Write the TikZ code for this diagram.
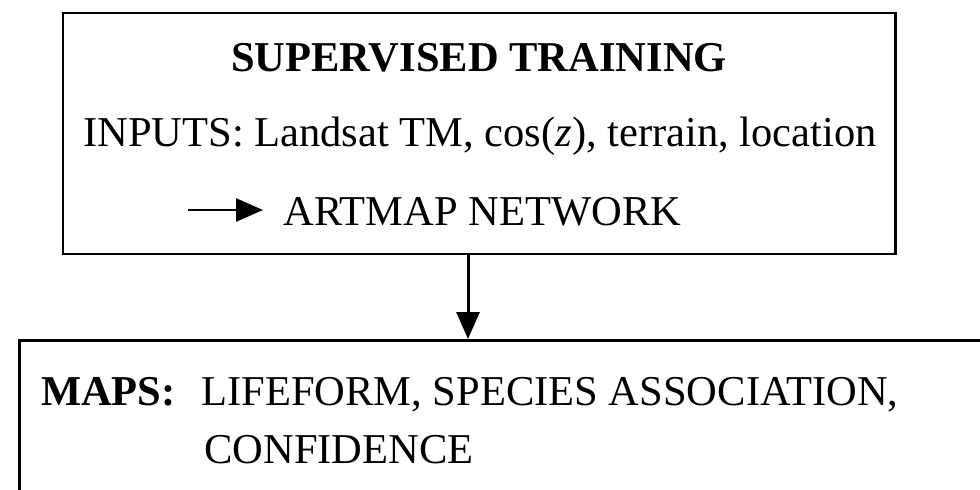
\documentclass[tikz,border=0pt]{standalone}
\usepackage{fontspec}
\setmainfont{Liberation Serif}
\usetikzlibrary{positioning, arrows.meta}

\tikzstyle{block} = [rectangle, draw, line width=1.7pt, fill=white]
\tikzstyle{words} = [inner sep=0pt, font=\fontsize{24.2}{29}\selectfont]
\tikzstyle{heading} = [inner sep=0pt, font=\fontsize{24.2}{29}\selectfont\bfseries]
\tikzstyle{arrow} = [draw, line width=1.7pt, -{Triangle[length=5.4mm, width=4.6mm]}]

\begin{document}
\begin{tikzpicture}[x=0.2mm, y=-0.2mm, node distance=1cm]
    \clip (0,0) rectangle (980,490);

    % boxes
    \node[block, minimum width=16.64cm, minimum height=4.82cm] (training) at (479,133.5) {};
    \node[block, minimum width=20cm, minimum height=4cm, anchor=north west] (maps) at (18,339) {};

    % top box text
    \node[heading, anchor=base] (title) at (479,72) {SUPERVISED TRAINING};
    \node[words, anchor=base] (inputs) at (480,147) {INPUTS: Landsat TM, cos(\textit{z}), terrain, location};
    \node[words, anchor=base west] (artmap) at (283,225) {ARTMAP NETWORK};
    \coordinate (feed) at (188,210);

    % bottom box text
    \node[words, anchor=base west] (lifeform) at (201,405) {LIFEFORM, SPECIES ASSOCIATION,};
    \node[heading, base left=5mm of lifeform] (mapslabel) {MAPS:};
    \node[words, anchor=base west] (confidence) at (204,463) {CONFIDENCE};

    % lines
    \draw[arrow, shorten >=4mm] (feed) -- (feed -| artmap.west);
    \draw[arrow] ([xshift=-2.2mm]training.south) -- ([xshift=-2.2mm]training.south |- maps.north);
\end{tikzpicture}
\end{document}
